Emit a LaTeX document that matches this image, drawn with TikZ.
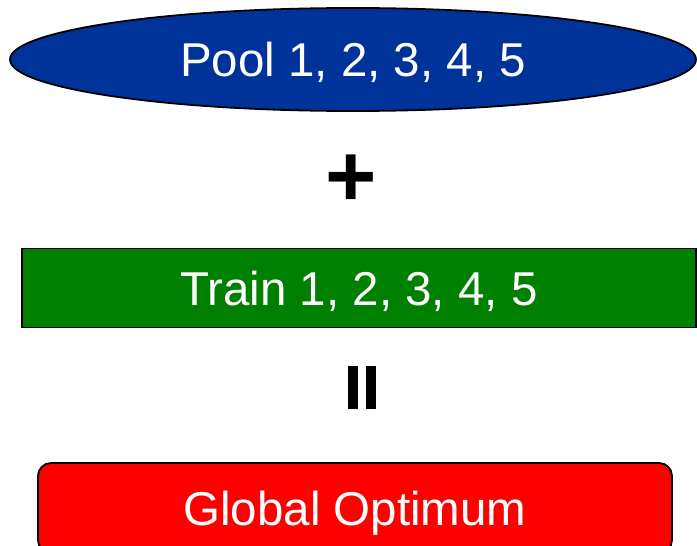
\documentclass[tikz,border=0pt]{standalone}
\usepackage{fontspec}
\setmainfont{Liberation Sans}
\usetikzlibrary{shapes.geometric}
\definecolor{poolblue}{HTML}{003399}
\definecolor{traingreen}{HTML}{008000}
\definecolor{optred}{HTML}{FF0000}
\tikzset{
  boxtext/.style={text=white, font=\fontsize{47.5}{57}\selectfont,
    text height=34pt, text depth=0pt, inner sep=0pt, draw=black, line width=1.8pt},
  opsign/.style={font=\fontsize{88}{100}\bfseries\selectfont, inner sep=0pt, text=black},
  eqbar/.style={fill=black, inner sep=0pt, minimum width=10pt, minimum height=43pt}
}
\begin{document}
\begin{tikzpicture}[x=1pt,y=-1pt]
  \useasboundingbox (0,0) rectangle (697,546);
  % pooled inputs
  \node[boxtext, ellipse, fill=poolblue, minimum width=686pt, minimum height=103pt]
    (pool) at (353,59.5) {Pool 1, 2, 3, 4, 5};
  % plus sign
  \node[opsign] (plus) at (351,181) {+};
  % training runs
  \node[boxtext, rectangle, fill=traingreen, minimum width=674pt, minimum height=79pt]
    (train) at (359,288) {Train 1, 2, 3, 4, 5};
  % equals sign, standing upright as two bars
  \node[eqbar] (eqleft) at (353,387.5) {};
  \node[eqbar] (eqright) at (371,387.5) {};
  % result
  \node[boxtext, rectangle, rounded corners=13pt, fill=optred, minimum width=634pt, minimum height=90pt]
    (opt) at (355,508) {Global Optimum};
\end{tikzpicture}
\end{document}
